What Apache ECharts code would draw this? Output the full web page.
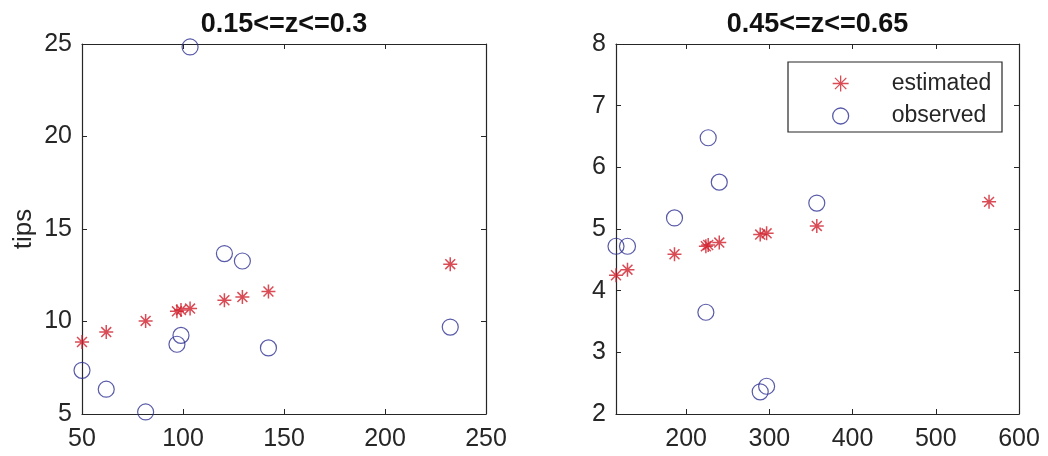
<!DOCTYPE html>
<html><head><meta charset="utf-8">
<script src="https://cdn.jsdelivr.net/npm/echarts@6/dist/echarts.min.js"></script>
<style>html,body{margin:0;padding:0;background:#fff}#c{width:1048px;height:456px}</style>
</head><body><div id="c"></div>
<script>
const leftTitle = '0.15<=z<=0.3';
const rightTitle = '0.45<=z<=0.65';
const yName = 'tips';
const seriesNames = ['estimated', 'observed'];

const leftX = [50, 62, 81.5, 97, 99, 103.5, 120.5, 129.4, 142.3, 232.3];
const leftEstimated = [8.89, 9.43, 10.03, 10.55, 10.62, 10.7, 11.15, 11.32, 11.62, 13.1];
const leftObserved = [7.36, 6.34, 5.11, 8.77, 9.25, 24.84, 13.67, 13.27, 8.57, 9.70];

const rightX = [115.7, 129.5, 186, 223.7, 226.5, 239.8, 289, 296.7, 357, 564];
const rightEstimated = [4.25, 4.34, 4.59, 4.72, 4.74, 4.78, 4.91, 4.93, 5.05, 5.44];
const rightObserved = [4.72, 4.72, 5.18, 3.65, 6.48, 5.76, 2.36, 2.45, 5.42, null];

const leftXTicks = [50, 100, 150, 200, 250];
const leftYTicks = [5, 10, 15, 20, 25];
const rightXTicks = [200, 300, 400, 500, 600];
const rightYTicks = [2, 3, 4, 5, 6, 7, 8];
const leftXRange = [50, 250], leftYRange = [5, 25];
const rightXRange = [115.7, 600], rightYRange = [2, 8];

const AX = '#262626';
const RED = '#d01f2c';
const BLUE = '#2e3192';
const FONT = '"Liberation Sans", Arial, Helvetica, sans-serif';
const STAR = 'path://M10,0L10,20M0,10L20,10M2.93,2.93L17.07,17.07M2.93,17.07L17.07,2.93';

function axis(gridIndex, position, range, ticks, showLabels, extra) {
  const isX = position === 'bottom' || position === 'top';
  return Object.assign({
    type: 'value', gridIndex, position, min: range[0], max: range[1],
    axisLine: { show: true, onZero: false, lineStyle: { color: AX, width: 1.2 } },
    axisTick: { show: true, inside: true, length: 5, customValues: ticks, lineStyle: { color: AX, width: 1 } },
    axisLabel: { show: showLabels, customValues: ticks, color: AX, fontSize: 25, fontFamily: FONT, margin: isX ? 13 : 10 },
    splitLine: { show: false }
  }, extra || {});
}

const pairs = (xs, ys) => xs.map((x, i) => [x, ys[i]]).filter(p => p[1] != null);

function starSeries(xi, yi, xs, ys) {
  return { type: 'scatter', name: seriesNames[0], xAxisIndex: xi, yAxisIndex: yi, data: pairs(xs, ys),
    symbol: STAR, symbolSize: 14, symbolKeepAspect: true,
    itemStyle: { color: 'rgba(0,0,0,0)', borderColor: RED, borderWidth: 1.5 },
    emphasis: { scale: false }, z: 3 };
}
function circleSeries(xi, yi, xs, ys) {
  return { type: 'scatter', name: seriesNames[1], xAxisIndex: xi, yAxisIndex: yi, data: pairs(xs, ys),
    symbol: 'circle', symbolSize: 16,
    itemStyle: { color: 'rgba(0,0,0,0)', borderColor: BLUE, borderWidth: 1.2 },
    emphasis: { scale: false }, z: 2 };
}

const chart = echarts.init(document.getElementById('c'), null, { renderer: 'canvas' });
chart.setOption({
  animation: false,
  backgroundColor: '#fff',
  grid: [
    { left: 82, top: 44, width: 404, height: 370 },
    { left: 616, top: 44, width: 403, height: 370 }
  ],
  xAxis: [
    axis(0, 'bottom', leftXRange, leftXTicks, true),
    axis(0, 'top', leftXRange, leftXTicks, false),
    axis(1, 'bottom', rightXRange, rightXTicks, true),
    axis(1, 'top', rightXRange, rightXTicks, false)
  ],
  yAxis: [
    axis(0, 'left', leftYRange, leftYTicks, true, { name: yName, nameLocation: 'middle', nameGap: 45,
      nameTextStyle: { fontSize: 26, color: AX, fontFamily: FONT } }),
    axis(0, 'right', leftYRange, leftYTicks, false),
    axis(1, 'left', rightYRange, rightYTicks, true),
    axis(1, 'right', rightYRange, rightYTicks, false)
  ],
  graphic: [
    { type: 'text', x: 284, y: 24.5, z: 10, style: { text: leftTitle, fill: '#111', font: 'bold 27px ' + FONT, align: 'center', verticalAlign: 'middle' } },
    { type: 'text', x: 817.5, y: 24.5, z: 10, style: { text: rightTitle, fill: '#111', font: 'bold 27px ' + FONT, align: 'center', verticalAlign: 'middle' } },
    { type: 'rect', z: 5, shape: { x: 788, y: 62, width: 214, height: 70 }, style: { fill: '#fff', stroke: AX, lineWidth: 1.2 } }
  ],
  legend: {
    data: seriesNames, orient: 'vertical', left: 827, top: 66.5, z: 20,
    itemWidth: 16, itemHeight: 16, itemGap: 8.5, selectedMode: false,
    textStyle: { fontSize: 23, color: AX, fontFamily: FONT, lineHeight: 24, padding: [0, 0, 0, 38] },
    itemStyle: { borderWidth: 1.3 }
  },
  series: [
    starSeries(0, 0, leftX, leftEstimated),
    circleSeries(0, 0, leftX, leftObserved),
    starSeries(2, 2, rightX, rightEstimated),
    circleSeries(2, 2, rightX, rightObserved)
  ]
});
</script></body></html>
